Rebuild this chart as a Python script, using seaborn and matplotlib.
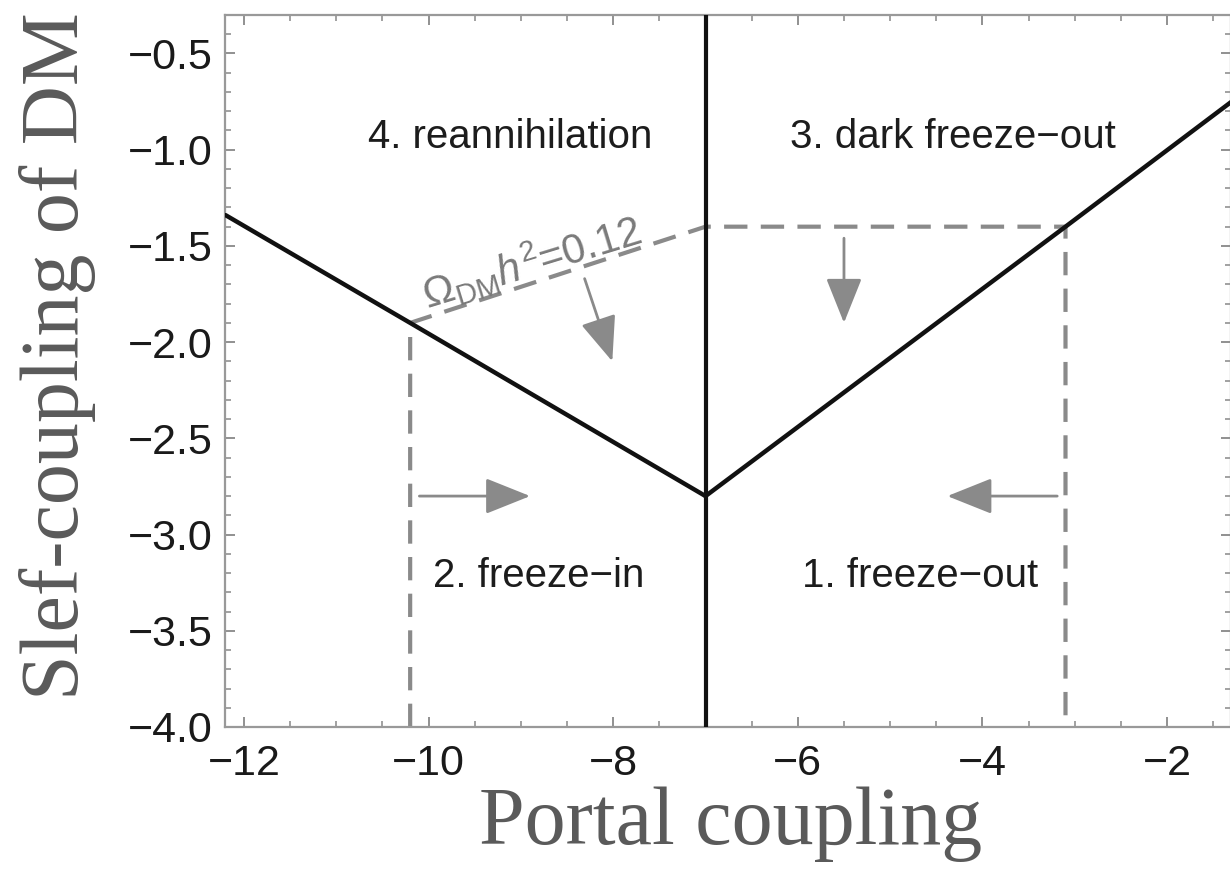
import numpy as np
import pandas as pd
import matplotlib
matplotlib.use("Agg")
import matplotlib.pyplot as plt
from matplotlib.ticker import MultipleLocator
import seaborn as sns

# Boundary between regimes (black V)
left_x = [-12.2, -10.2, -7.0]
left_y = [-1.34, -1.90, -2.80]
right_x = [-7.0, -3.1, -1.3]
right_y = [-2.80, -1.40, -0.75]
split_x = -7.0

# Relic-abundance contour (grey dashed)
relic_x = [-10.2, -10.2, -7.0, -3.1, -3.1]
relic_y = [-4.0, -1.90, -1.40, -1.40, -4.0]
relic_label = r"$\Omega_{\rm DM}h^2$=0.12"

# Arrows: (x_start, y_start, x_end, y_end)
arrows = [
    (-8.31, -1.67, -8.01, -2.10),
    (-5.50, -1.46, -5.50, -1.90),
    (-10.10, -2.80, -8.90, -2.80),
    (-3.19, -2.80, -4.38, -2.80),
]

# Regime names
regimes = ["4. reannihilation", "3. dark freeze\u2212out",
           "2. freeze\u2212in", "1. freeze\u2212out"]
regime_x = [-9.12, -4.32, -8.81, -4.68]
regime_y = [-0.99, -0.99, -3.275, -3.275]

xticks = [-12, -10, -8, -6, -4, -2]
yticks = [-4.0, -3.5, -3.0, -2.5, -2.0, -1.5, -1.0, -0.5]

sns.set_theme(style="white")
plt.rcParams["font.family"] = ["Liberation Sans", "DejaVu Sans"]
plt.rcParams["mathtext.fontset"] = "custom"
plt.rcParams["mathtext.rm"] = "Liberation Sans"
plt.rcParams["mathtext.it"] = "Liberation Sans:italic"
plt.rcParams["mathtext.bf"] = "Liberation Sans:bold"

fig = plt.figure(figsize=(12.3, 8.83), dpi=100)
ax = fig.add_axes([225 / 1230, 1 - 727 / 883, (1231 - 225) / 1230, (727 - 15) / 883])

black = "#111111"
grey = "#8a8a8a"

df_left = pd.DataFrame({"x": left_x, "y": left_y})
df_right = pd.DataFrame({"x": right_x, "y": right_y})
df_relic = pd.DataFrame({"x": relic_x, "y": relic_y})

sns.lineplot(data=df_relic, x="x", y="y", sort=False, estimator=None, ax=ax,
             color=grey, linewidth=3.0, zorder=2)
ax.lines[-1].set_dashes((5.6, 3.2))
sns.lineplot(data=df_left, x="x", y="y", sort=False, estimator=None, ax=ax,
             color=black, linewidth=3.2, zorder=3)
sns.lineplot(data=df_right, x="x", y="y", sort=False, estimator=None, ax=ax,
             color=black, linewidth=3.2, zorder=3)
ax.axvline(split_x, color=black, linewidth=3.0, zorder=3)

for x0, y0, x1, y1 in arrows:
    ax.annotate("", xy=(x1, y1), xytext=(x0, y0),
                arrowprops=dict(arrowstyle="-|>,head_length=2.0,head_width=0.8",
                                mutation_scale=14, color=grey, lw=2.0,
                                shrinkA=0, shrinkB=0), zorder=4)

for name, x, y in zip(regimes, regime_x, regime_y):
    ax.text(x, y, name, ha="center", va="baseline", fontsize=29, color="#1c1c1c")

ax.text(-8.88, -1.586, relic_label, ha="center", va="center", rotation=17,
        fontsize=30, color="#7a7a7a")

ax.set_xlim(-12.206, -1.307)
ax.set_ylim(-4.0, -0.30)
ax.set_xticks(xticks)
ax.set_yticks(yticks)
ax.set_yticklabels([f"{v:.1f}".replace("-", "\u2212") for v in yticks])
ax.xaxis.set_minor_locator(MultipleLocator(0.5))
ax.yaxis.set_minor_locator(MultipleLocator(0.1))
ax.tick_params(which="both", direction="in", top=True, right=True,
               bottom=True, left=True,
               color="#888888", labelcolor="#1a1a1a")
ax.tick_params(which="major", length=7.5, width=1.3, labelsize=31)
ax.tick_params(which="minor", length=4.2, width=1.1)
ax.tick_params(axis="y", which="major", pad=9)
ax.tick_params(axis="x", which="major", pad=12)
for s in ax.spines.values():
    s.set_color("#999999")
    s.set_linewidth(1.6)

label_font = dict(family=["Liberation Serif", "DejaVu Serif"], size=59, color="#5a5a5a")
ax.set_xlabel("Portal coupling", **label_font)
ax.set_ylabel("Slef-coupling of DM", **label_font)
ax.xaxis.set_label_coords(0.503, -0.083)
ax.yaxis.set_label_coords(-0.128, 0.521)

fig.savefig("out.png", dpi=100)
